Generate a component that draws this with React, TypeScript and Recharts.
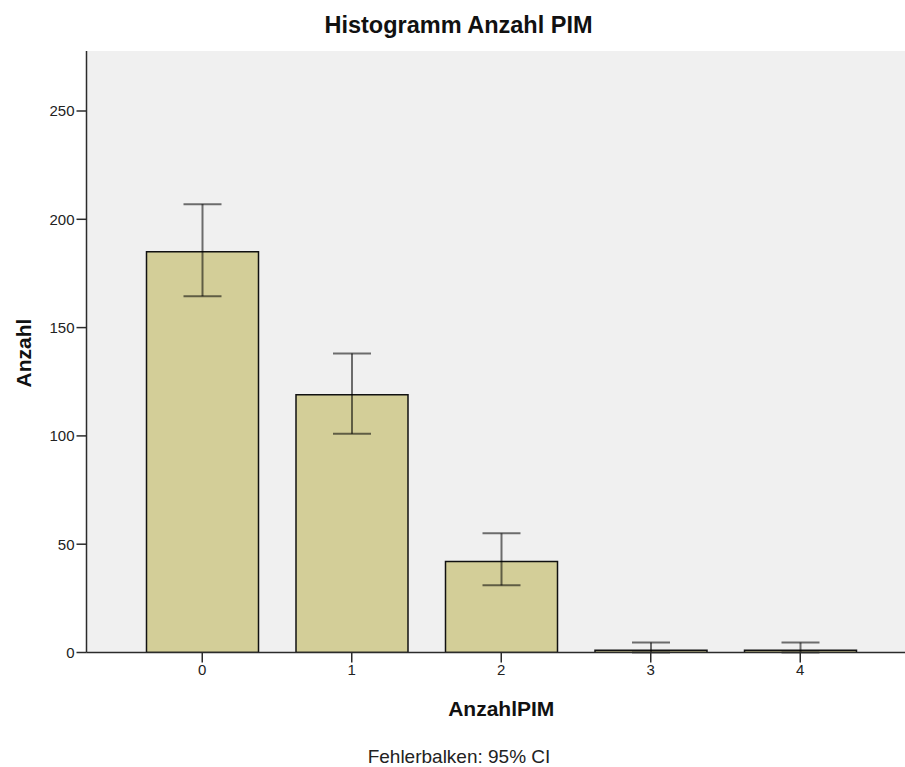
import { Bar, BarChart, CartesianGrid, ErrorBar, XAxis, YAxis } from 'recharts';

// Histogram of PIM counts with 95% confidence intervals
const categories = ['0', '1', '2', '3', '4'];
const counts = [185, 119, 42, 1, 1];
const ciLow = [164.5, 101, 31, 0, 0];
const ciHigh = [207, 138, 55, 4.6, 4.6];
const yTicks = [0, 50, 100, 150, 200, 250];

const data = categories.map((cat, i) => ({
  cat,
  count: counts[i],
  err: [counts[i] - ciLow[i], ciHigh[i] - counts[i]],
}));

const font = '"Liberation Sans", Arial, sans-serif';
const frame = '#2b2b2b';

const App = () => {
  return (
    <div
      style={{
        position: 'absolute',
        left: 0,
        top: 0,
        width: 905,
        height: 767,
        overflow: 'hidden',
        background: '#fff',
        fontFamily: font,
      }}
    >
      <BarChart
        width={926}
        height={767}
        data={data}
        margin={{ top: 51, right: 10, bottom: 74.5, left: 0 }}
      >
        <CartesianGrid fill="#f0f0f0" horizontal={false} vertical={false} />
        <XAxis
          dataKey="cat"
          height={40}
          padding={{ left: 41, right: 41 }}
          tickSize={10}
          tick={{ fontSize: 15, fill: '#222', fontFamily: font }}
          axisLine={{ stroke: frame, strokeWidth: 1.5 }}
          tickLine={{ stroke: frame, strokeWidth: 1.5 }}
        />
        <XAxis
          xAxisId="top"
          dataKey="cat"
          orientation="top"
          height={0}
          tick={false}
          tickLine={false}
          axisLine={{ stroke: frame, strokeWidth: 1.5 }}
        />
        <YAxis
          width={86.5}
          domain={[0, 277.7]}
          ticks={yTicks}
          allowDataOverflow
          tickSize={10}
          tick={{ fontSize: 15, fill: '#222', fontFamily: font }}
          axisLine={{ stroke: frame, strokeWidth: 1.5 }}
          tickLine={{ stroke: frame, strokeWidth: 1.5 }}
        />
        <Bar
          dataKey="count"
          fill="#d3ce98"
          stroke="#111"
          strokeWidth={1.5}
          barSize={112}
          isAnimationActive={false}
        >
          <ErrorBar
            dataKey="err"
            width={19}
            stroke="#000"
            strokeOpacity={0.55}
            strokeWidth={2}
            isAnimationActive={false}
          />
        </Bar>
      </BarChart>
      <div
        style={{
          position: 'absolute',
          left: 0,
          width: 917,
          top: 13.5,
          textAlign: 'center',
          fontSize: 23.5,
          lineHeight: 1,
          fontWeight: 'bold',
          color: '#111',
        }}
      >
        Histogramm Anzahl PIM
      </div>
      <div
        style={{
          position: 'absolute',
          left: 86.5,
          width: 829.5,
          top: 698,
          textAlign: 'center',
          fontSize: 21,
          lineHeight: 1,
          fontWeight: 'bold',
          color: '#111',
        }}
      >
        AnzahlPIM
      </div>
      <div
        style={{
          position: 'absolute',
          left: 0,
          width: 918,
          top: 747,
          textAlign: 'center',
          fontSize: 19,
          lineHeight: 1,
          color: '#222',
        }}
      >
        Fehlerbalken: 95% CI
      </div>
      <div
        style={{
          position: 'absolute',
          left: 22.5,
          top: 353,
          transform: 'translate(-50%, -50%) rotate(-90deg)',
          fontSize: 21,
          lineHeight: 1,
          fontWeight: 'bold',
          color: '#111',
          whiteSpace: 'nowrap',
        }}
      >
        Anzahl
      </div>
    </div>
  );
};

export default App;
